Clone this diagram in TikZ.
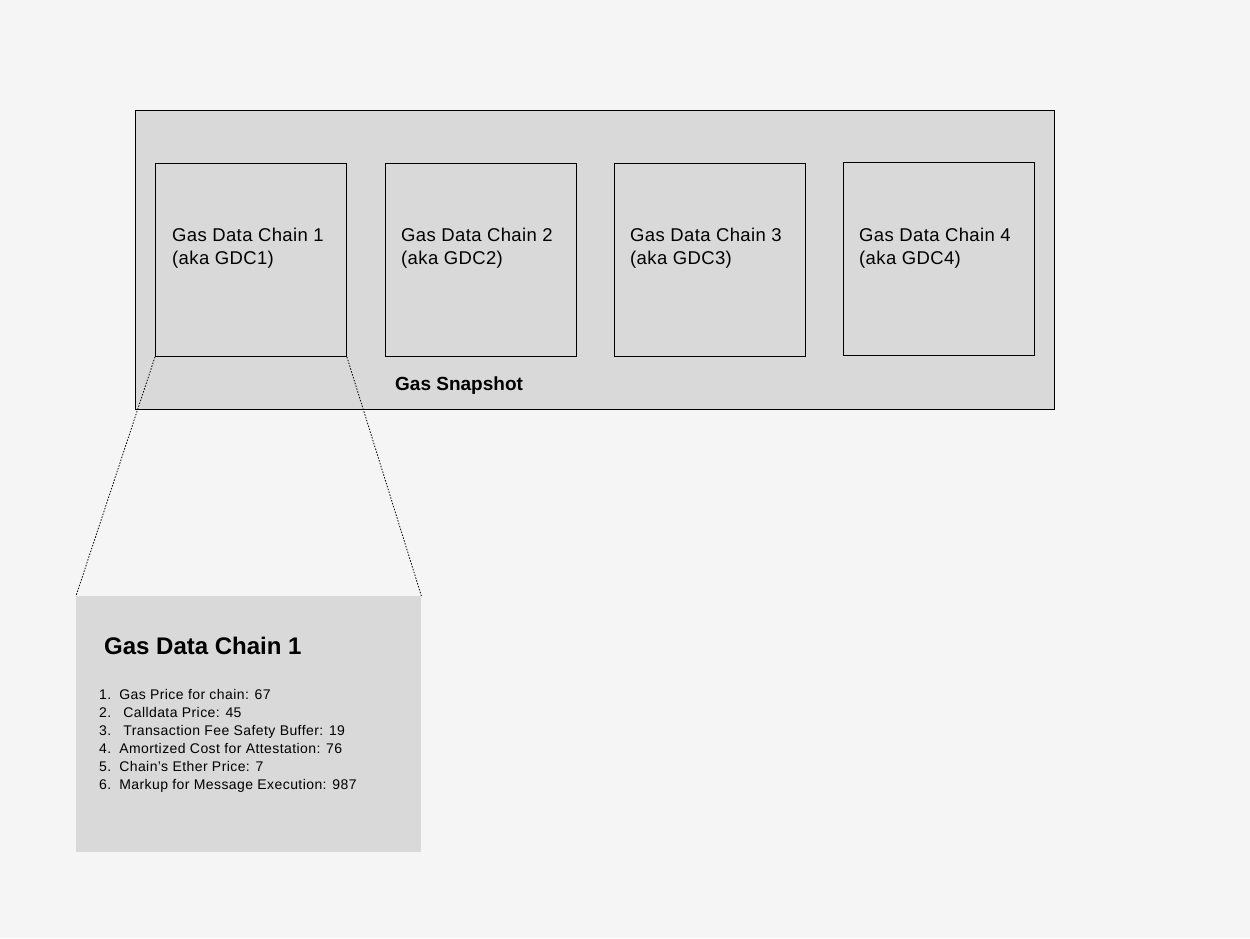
\documentclass[tikz,border=0pt]{standalone}
\usepackage{fontspec}
\setmainfont{Liberation Sans}
\definecolor{bg}{HTML}{F5F5F5}
\definecolor{boxfill}{HTML}{D9D9D9}
\begin{document}
\begin{tikzpicture}[x=1pt,y=-1pt,
  chainbox/.style={draw=black, line width=0.9pt, fill=boxfill, minimum width=191pt, minimum height=193pt, inner sep=0pt},
  chaintext/.style={anchor=north west, align=left, font=\addfontfeature{LetterSpace=2}\fontsize{18.5}{23}\selectfont, inner sep=0pt},
  zoomline/.style={black, line width=0.8pt, dash pattern=on 1.5pt off 1.5pt}]
\useasboundingbox (0,0) rectangle (1250,938);
\fill[bg] (0,0) rectangle (1250,938);
% outer snapshot
\node[draw=black, line width=0.9pt, fill=boxfill, minimum width=919pt, minimum height=299pt, inner sep=0pt, anchor=north west] (snap) at (135,110) {};
\node[chainbox, anchor=north west] (b1) at (155,163) {};
\node[chainbox, anchor=north west] (b2) at (385,163) {};
\node[chainbox, anchor=north west] (b3) at (614,163) {};
\node[chainbox, anchor=north west] (b4) at (843,162) {};
\node[chaintext] (t1) at (172,228) {Gas Data Chain 1\\(aka GDC1)};
\node[chaintext] (t2) at (401,228) {Gas Data Chain 2\\(aka GDC2)};
\node[chaintext] (t3) at (630,228) {Gas Data Chain 3\\(aka GDC3)};
\node[chaintext] (t4) at (859,228) {Gas Data Chain 4\\(aka GDC4)};
\node[anchor=west, inner sep=0pt, font=\fontsize{19}{22}\selectfont\bfseries] (snaplabel) at (395,386) {Gas Snapshot};
% detail panel
\node[fill=boxfill, minimum width=345pt, minimum height=256pt, inner sep=0pt, anchor=north west] (detail) at (76,596) {};
\node[anchor=west, inner sep=0pt, font=\fontsize{24}{27}\selectfont\bfseries] (dtitle) at (104,646) {Gas Data Chain 1};
\node[anchor=north west, align=left, inner sep=0pt, font=\addfontfeature{LetterSpace=3}\fontsize{14}{18}\selectfont] (dlist) at (99,689) {%
1.\hspace{8pt}Gas Price for chain: 67\\
2.\hspace{12pt}Calldata Price: 45\\
3.\hspace{12pt}Transaction Fee Safety Buffer: 19\\
4.\hspace{8pt}Amortized Cost for Attestation: 76\\
5.\hspace{8pt}Chain’s Ether Price: 7\\
6.\hspace{8pt}Markup for Message Execution: 987};
% zoom connectors
\draw[zoomline] (b1.south west) -- (detail.north west);
\draw[zoomline] (b1.south east) -- (detail.north east);
\end{tikzpicture}
\end{document}
